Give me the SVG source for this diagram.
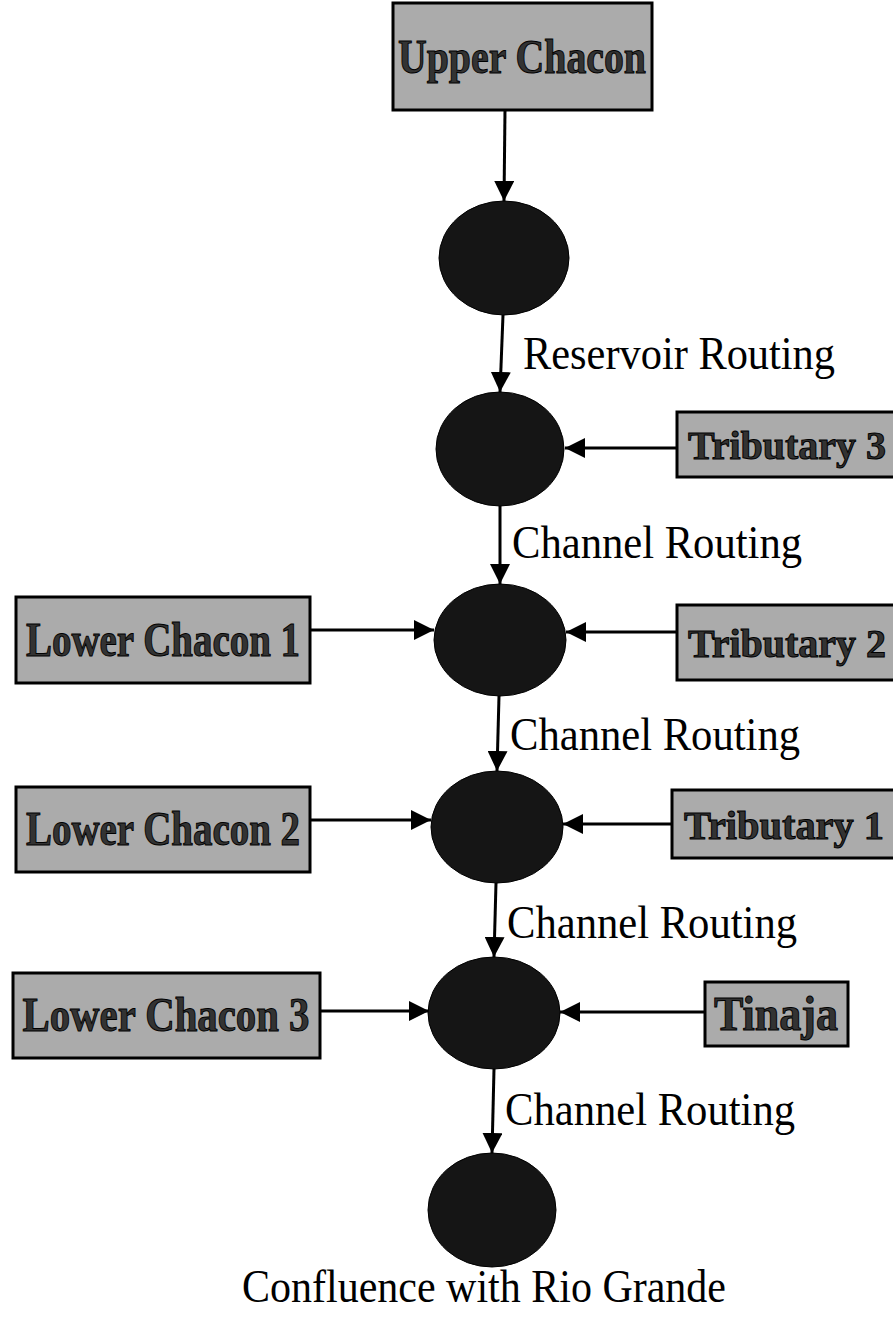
<svg xmlns="http://www.w3.org/2000/svg" width="893" height="1319" viewBox="0 0 893 1319">
<style>
.box{fill:#ababab;stroke:#000;stroke-width:3}
.btxt{font-family:"Liberation Serif","Times New Roman",serif;font-weight:bold;font-size:48px;fill:#333;stroke:#000;stroke-width:1}
.trib{font-size:40px}
.node{fill:#151515;stroke:#000;stroke-width:1}
.lbl{font-family:"Liberation Serif","Times New Roman",serif;font-size:46px;fill:#000}
.edge{stroke:#000;stroke-width:3;fill:none}
</style>
<defs>
<marker id="ah" viewBox="0 0 20 20" refX="20" refY="10" markerWidth="20" markerHeight="20" markerUnits="userSpaceOnUse" orient="auto">
<path d="M0,0 L20,10 L0,20 Z" fill="#000"/>
</marker>
</defs>
<rect width="893" height="1319" fill="#fff"/>
<g id="connectors">
<line class="edge" x1="505" y1="110" x2="504" y2="201" marker-end="url(#ah)"/>
<line class="edge" x1="503" y1="315" x2="500" y2="392" marker-end="url(#ah)"/>
<line class="edge" x1="677" y1="448" x2="565" y2="448" marker-end="url(#ah)"/>
<line class="edge" x1="500" y1="506" x2="500" y2="584" marker-end="url(#ah)"/>
<line class="edge" x1="310" y1="630" x2="434" y2="630" marker-end="url(#ah)"/>
<line class="edge" x1="677" y1="632" x2="566" y2="632" marker-end="url(#ah)"/>
<line class="edge" x1="499" y1="696" x2="497" y2="771" marker-end="url(#ah)"/>
<line class="edge" x1="310" y1="820" x2="431" y2="820" marker-end="url(#ah)"/>
<line class="edge" x1="672" y1="824" x2="563" y2="824" marker-end="url(#ah)"/>
<line class="edge" x1="496" y1="883" x2="494" y2="957" marker-end="url(#ah)"/>
<line class="edge" x1="320" y1="1011" x2="429" y2="1011" marker-end="url(#ah)"/>
<line class="edge" x1="705" y1="1012" x2="560" y2="1012" marker-end="url(#ah)"/>
<line class="edge" x1="494" y1="1069" x2="492" y2="1153" marker-end="url(#ah)"/>
</g>
<g id="upper-chacon">
<rect class="box" x="393" y="3" width="259" height="107"/>
<text class="btxt" x="522" y="73" text-anchor="middle" textLength="248" lengthAdjust="spacingAndGlyphs">Upper Chacon</text>
</g>
<g id="junction-1">
<ellipse class="node" cx="504" cy="258" rx="65" ry="57"/>
</g>
<text class="lbl" x="523" y="369" textLength="312" lengthAdjust="spacingAndGlyphs">Reservoir Routing</text>
<g id="junction-2">
<ellipse class="node" cx="500" cy="449" rx="64" ry="57"/>
</g>
<g id="tributary-3">
<rect class="box" x="677" y="412" width="218" height="65"/>
<text class="btxt trib" x="688" y="459" textLength="198" lengthAdjust="spacingAndGlyphs">Tributary 3</text>
</g>
<text class="lbl" x="512" y="558" textLength="290" lengthAdjust="spacingAndGlyphs">Channel Routing</text>
<g id="junction-3">
<ellipse class="node" cx="500" cy="640" rx="66" ry="56"/>
</g>
<g id="lower-chacon-1">
<rect class="box" x="16" y="597" width="294" height="86"/>
<text class="btxt" x="163" y="656" text-anchor="middle" textLength="274" lengthAdjust="spacingAndGlyphs">Lower Chacon 1</text>
</g>
<g id="tributary-2">
<rect class="box" x="677" y="605" width="218" height="75"/>
<text class="btxt trib" x="688" y="657" textLength="198" lengthAdjust="spacingAndGlyphs">Tributary 2</text>
</g>
<text class="lbl" x="510" y="750" textLength="290" lengthAdjust="spacingAndGlyphs">Channel Routing</text>
<g id="junction-4">
<ellipse class="node" cx="497" cy="827" rx="66" ry="56"/>
</g>
<g id="lower-chacon-2">
<rect class="box" x="16" y="787" width="294" height="85"/>
<text class="btxt" x="163" y="845" text-anchor="middle" textLength="274" lengthAdjust="spacingAndGlyphs">Lower Chacon 2</text>
</g>
<g id="tributary-1">
<rect class="box" x="672" y="790" width="223" height="68"/>
<text class="btxt trib" x="684" y="839" textLength="200" lengthAdjust="spacingAndGlyphs">Tributary 1</text>
</g>
<text class="lbl" x="507" y="938" textLength="290" lengthAdjust="spacingAndGlyphs">Channel Routing</text>
<g id="junction-5">
<ellipse class="node" cx="494" cy="1013" rx="66" ry="56"/>
</g>
<g id="lower-chacon-3">
<rect class="box" x="13" y="973" width="307" height="85"/>
<text class="btxt" x="166" y="1031" text-anchor="middle" textLength="287" lengthAdjust="spacingAndGlyphs">Lower Chacon 3</text>
</g>
<g id="tinaja">
<rect class="box" x="705" y="982" width="143" height="64"/>
<text class="btxt" x="776" y="1030" text-anchor="middle" textLength="124" lengthAdjust="spacingAndGlyphs">Tinaja</text>
</g>
<text class="lbl" x="505" y="1125" textLength="290" lengthAdjust="spacingAndGlyphs">Channel Routing</text>
<g id="confluence">
<ellipse class="node" cx="492" cy="1210" rx="64" ry="57"/>
<text class="lbl" x="484" y="1302" text-anchor="middle" textLength="484" lengthAdjust="spacingAndGlyphs">Confluence with Rio Grande</text>
</g>
</svg>
